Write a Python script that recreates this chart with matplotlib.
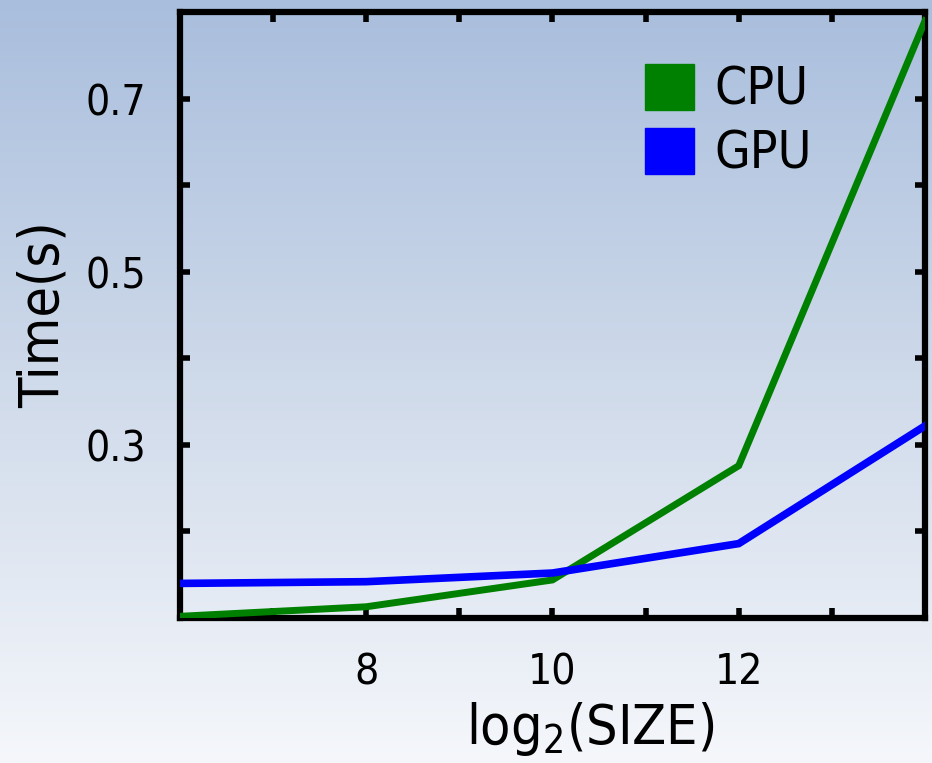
import numpy as np
import matplotlib
matplotlib.use("Agg")
import matplotlib.pyplot as plt
from matplotlib.patches import Patch
from matplotlib.colors import LinearSegmentedColormap

# Data
sizes_log2 = [6, 8, 10, 12, 14]
cpu_time = [0.102, 0.113, 0.144, 0.276, 0.79]
gpu_time = [0.140, 0.142, 0.152, 0.186, 0.322]
series_labels = ["CPU", "GPU"]
x_major = [8, 10, 12]
x_minor = [7, 9, 11, 13]
y_major = [0.3, 0.5, 0.7]
y_minor = [0.2, 0.4, 0.6]

plt.rcParams['font.family'] = ['DejaVu Sans']
plt.rcParams['font.stretch'] = 'condensed'
plt.rcParams['mathtext.fontset'] = 'custom'
plt.rcParams['mathtext.rm'] = 'DejaVu Sans:stretch=condensed'

fig = plt.figure(figsize=(9.32, 7.63), dpi=100)

# gradient background
bg = fig.add_axes([0, 0, 1, 1], zorder=-10)
cmap = LinearSegmentedColormap.from_list("bg", ["#a9bedd", "#cfdaea", "#f5f7fb"])
grad = np.linspace(0, 1, 256).reshape(-1, 1)
bg.imshow(grad, aspect='auto', cmap=cmap, extent=[0, 1, 0, 1])
bg.axis('off')

ax = fig.add_axes([0.193, 0.19, 0.7995, 0.794])
ax.set_facecolor('none')

ax.plot(sizes_log2, cpu_time, color='#008000', lw=5.0, solid_joinstyle='miter', zorder=3)
ax.plot(sizes_log2, gpu_time, color='#0000ff', lw=5.5, solid_joinstyle='miter', zorder=3)

ax.set_xlim(6, 14)
ax.set_ylim(0.1, 0.8)
ax.set_xticks(x_major)
ax.set_xticks(x_minor, minor=True)
ax.set_yticks(y_major)
ax.set_yticks(y_minor, minor=True)
ax.set_xticklabels([str(v) for v in x_major])
ax.set_yticklabels([f"{v:.1f}" for v in y_major])

for s in ax.spines.values():
    s.set_linewidth(4.5)
    s.set_color('black')

ax.tick_params(which='both', direction='in', length=7, width=4, top=True, right=True,
               colors='black')
ax.tick_params(axis='x', which='major', labelsize=30.5, pad=24)
ax.tick_params(axis='y', which='major', labelsize=30.5, pad=24)

ax.set_xlabel("log$_2$(SIZE)", fontsize=40)
ax.xaxis.set_label_coords(0.55, -0.135)
ax.set_ylabel("Time(s)", fontsize=40)
ax.yaxis.set_label_coords(-0.147, 0.5)

handles = [Patch(facecolor='#008000', edgecolor='#008000'),
           Patch(facecolor='#0000ff', edgecolor='#0000ff')]
ax.legend(handles, series_labels, loc='upper left', bbox_to_anchor=(0.665, 0.95),
          bbox_transform=fig.transFigure,
          frameon=False, fontsize=37, handlelength=0.95, handleheight=1.0,
          handletextpad=0.4, labelspacing=0.25, borderpad=0)

fig.savefig("out.png", dpi=100)
